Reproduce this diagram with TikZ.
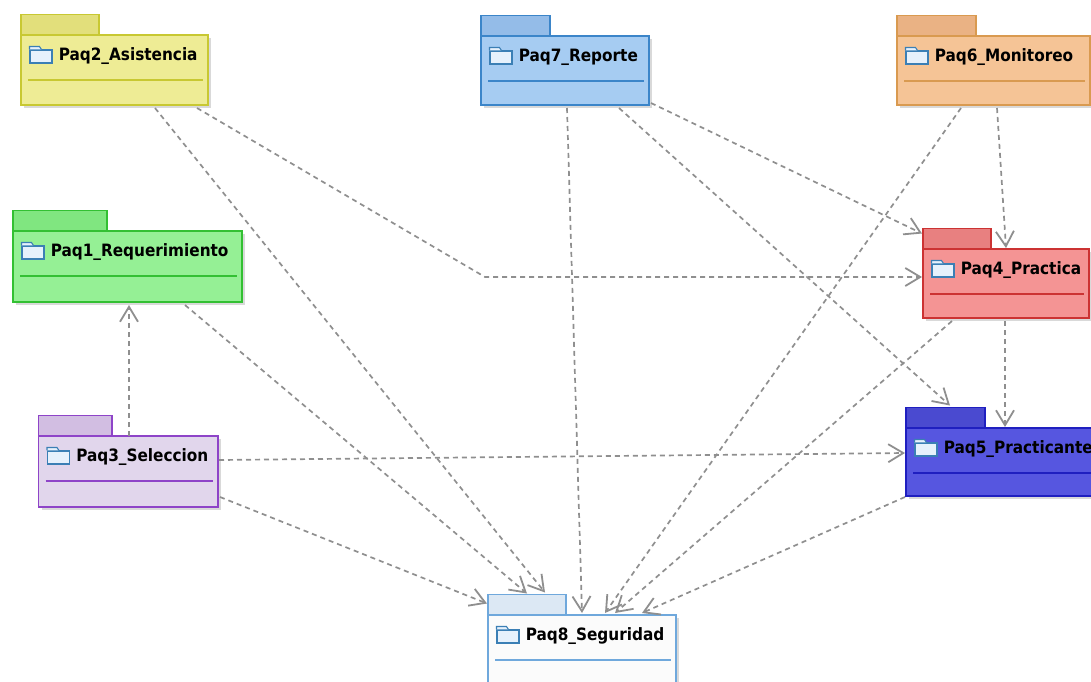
\documentclass[tikz,border=0pt]{standalone}
\usepackage{fontspec}
\setmainfont{DejaVu Sans Condensed}
\usetikzlibrary{
    arrows.meta,
    positioning,
    shadows
}
\definecolor{fondo1}{HTML}{95F095} \definecolor{tab1}{HTML}{80E680} \definecolor{borde1}{HTML}{33C033}
\definecolor{fondo2}{HTML}{EEEC95} \definecolor{tab2}{HTML}{E2DF7B} \definecolor{borde2}{HTML}{C8C832}
\definecolor{fondo3}{HTML}{E1D6EC} \definecolor{tab3}{HTML}{D2BEE2} \definecolor{borde3}{HTML}{8E44C8}
\definecolor{fondo4}{HTML}{F49494} \definecolor{tab4}{HTML}{E88080} \definecolor{borde4}{HTML}{CC3333}
\definecolor{fondo5}{HTML}{5656E0} \definecolor{tab5}{HTML}{4A4AD0} \definecolor{borde5}{HTML}{1F1FC0}
\definecolor{fondo6}{HTML}{F5C496} \definecolor{tab6}{HTML}{EAB284} \definecolor{borde6}{HTML}{D99A50}
\definecolor{fondo7}{HTML}{A6CCF2} \definecolor{tab7}{HTML}{94BCE8} \definecolor{borde7}{HTML}{3B85C9}
\definecolor{fondo8}{HTML}{FBFBFB} \definecolor{tab8}{HTML}{DCE8F4} \definecolor{borde8}{HTML}{6FA8DC}
\definecolor{lineadep}{HTML}{8F8F8F}
\definecolor{icono}{HTML}{3B7FB5}
\definecolor{iconofondo}{HTML}{E6F1FC}
\tikzset{
    sombra/.style={general shadow={shadow xshift=3pt, shadow yshift=-3pt, fill=gray, opacity=.3}},
    paquete/.style={shape=rectangle, draw, line width=1.4pt, outer sep=0pt, inner sep=0pt, anchor=north west, sombra},
    pestana/.style={shape=rectangle, draw, line width=1.4pt, outer sep=0pt, inner sep=0pt, anchor=south west, minimum height=20.5pt},
    carpeta/.style={shape=rectangle, draw=icono, fill=iconofondo, line width=1.1pt, inner sep=0pt, minimum width=22pt, minimum height=13pt},
    etiqueta/.style={inner sep=0pt, font=\fontsize{17}{20}\selectfont\bfseries},
    dep/.style={draw=lineadep, line width=1.7pt, dash pattern=on 5pt off 4pt, -{Straight Barb[length=15pt, width=18pt, line width=1.8pt]}}
}

\begin{document}
\begin{tikzpicture}[x=1pt, y=-1pt]
    \useasboundingbox (0,0) rectangle (1091,681);
    % paquetes
    \foreach \num/\x/\y/\w/\h/\tabw/\nombre in {
        1/13/231/229/71/94/Paq1_Requerimiento,
        2/21/35/187/70/78/Paq2_Asistencia,
        3/38.5/436/179.5/71/73.5/Paq3_Seleccion,
        4/923/249/166/69/68/Paq4_Practica,
        5/906/428/215/68/79/Paq5_Practicante,
        6/897/36/193/69/79/Paq6_Monitoreo,
        7/481/36/168/69/69/Paq7_Reporte,
        8/488/615/188/80/78/Paq8_Seguridad}
    {
        \node [paquete, draw=borde\num, fill=fondo\num, minimum width=\w pt, minimum height=\h pt] (paq\num) at (\x,\y) {};
        \node [pestana, draw=borde\num, fill=tab\num, minimum width=\tabw pt] (paq\num tab) at (paq\num.north west) {};
        \draw [draw=borde\num, line width=1.2pt] ([shift={(7,45)}]paq\num.north west) -- ([shift={(\w-5,45)}]paq\num.north west);
        \node [carpeta] (paq\num ico) at ([shift={(20,21.5)}]paq\num.north west) {};
        \draw [draw=icono, fill=iconofondo, line width=1.1pt] (paq\num ico.north west) -- ++(0,-3) -- ++(10,0) -- ++(2,3);
        \node [etiqueta, right=6pt of paq\num ico, yshift=0.5pt] (paq\num txt) {\detokenize\expandafter{\nombre}};
    }
    % dependencias
    \coordinate (codo) at (485,277);
    \draw [dep] ([shift={(134,3)}]paq2.south west) -- ([shift={(57,-2)}]paq8tab.north west);
    \draw [dep] ([shift={(176,3)}]paq2.south west) -- (codo) -- ([shift={(-1,28)}]paq4.north west);
    \draw [dep] ([shift={(172,3)}]paq1.south west) -- ([shift={(39,-1)}]paq8tab.north west);
    \draw [dep] ([shift={(90.5,0)}]paq3.north west) -- ([shift={(116,3)}]paq1.south west);
    \draw [dep] ([shift={(1,24)}]paq3.north east) -- ([shift={(-1,25)}]paq5.north west);
    \draw [dep] ([shift={(2,61)}]paq3.north east) -- ([shift={(-1,9)}]paq8tab.north west);
    \draw [dep] ([shift={(86,3)}]paq7.south west) -- ([shift={(94,-2)}]paq8.north west);
    \draw [dep] ([shift={(138,3)}]paq7.south west) -- ([shift={(44,-2)}]paq5tab.north west);
    \draw [dep] ([shift={(2,-2)}]paq7.south east) -- ([shift={(-1,5)}]paq4tab.north west);
    \draw [dep] ([shift={(64,3)}]paq6.south west) -- ([shift={(117,-2)}]paq8.north west);
    \draw [dep] ([shift={(100,3)}]paq6.south west) -- ([shift={(83,-1)}]paq4.north west);
    \draw [dep] ([shift={(29,3)}]paq4.south west) -- ([shift={(127,-2)}]paq8.north west);
    \draw [dep] ([shift={(82,3)}]paq4.south west) -- ([shift={(99,-1)}]paq5.north west);
    \draw [dep] ([shift={(-1,1)}]paq5.south west) -- ([shift={(154,-2)}]paq8.north west);
\end{tikzpicture}
\end{document}
